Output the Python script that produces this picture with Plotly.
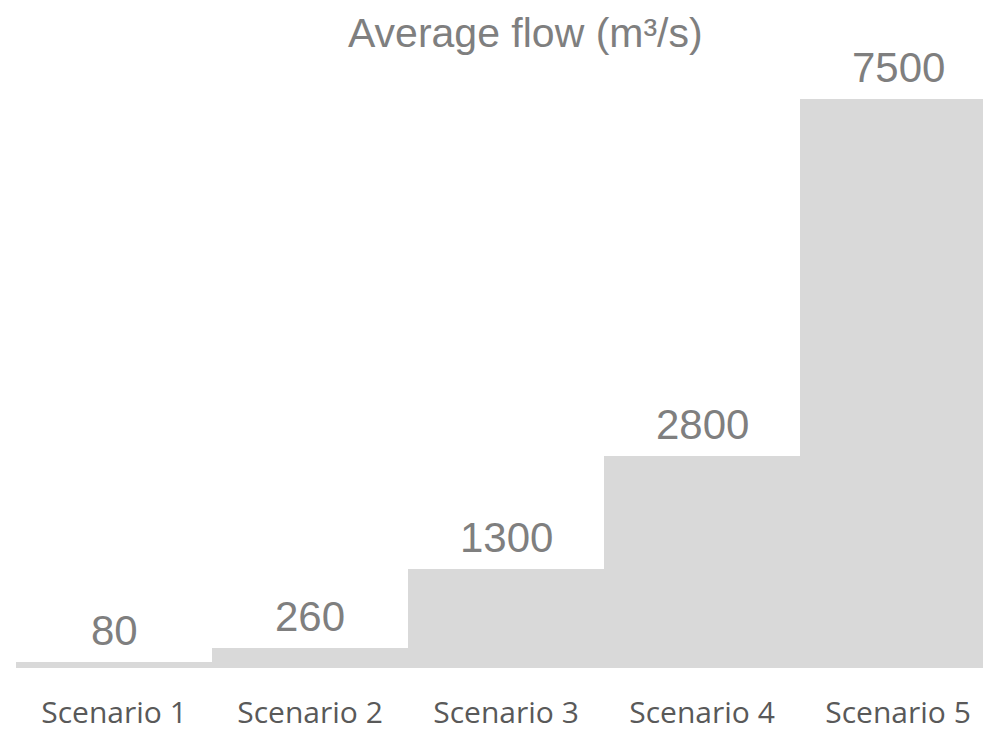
import plotly.graph_objects as go

# Scenario data: average flow in m³/s
scenarios = ["Scenario 1", "Scenario 2", "Scenario 3", "Scenario 4", "Scenario 5"]
avg_flow = [80, 260, 1300, 2800, 7500]

BAR_COLOR = "#d9d9d9"
LABEL_COLOR = "#7f7f7f"
TICK_COLOR = "#595959"
NUM_FONT = "Liberation Sans, Arial, sans-serif"

fig = go.Figure(
    go.Bar(
        x=scenarios,
        y=avg_flow,
        marker=dict(color=BAR_COLOR, line=dict(width=0)),
        width=1,
        hoverinfo="x+y",
    )
)

# Value labels sitting above each bar
for name, val in zip(scenarios, avg_flow):
    fig.add_annotation(
        x=name, y=val, text=str(val), showarrow=False,
        yanchor="bottom", yshift=6,
        font=dict(family=NUM_FONT, size=42, color=LABEL_COLOR),
    )

# Chart title
fig.add_annotation(
    text="Average flow (m³/s)", showarrow=False,
    xref="paper", x=(525 - 16) / 967, xanchor="center",
    yref="paper", y=1, yanchor="bottom", yshift=2,
    font=dict(family=NUM_FONT, size=41, color=LABEL_COLOR),
)

fig.update_layout(
    width=983, height=733,
    margin=dict(l=16, r=0, t=60, b=65),
    paper_bgcolor="white", plot_bgcolor="white",
    bargap=0,
    showlegend=False,
    xaxis=dict(
        range=[-0.5, 4.5 - 13 / 196],
        showgrid=False, zeroline=False, showline=False, ticks="",
        ticklabelstandoff=24,
        tickfont=dict(family="Open Sans, sans-serif", size=30, color=TICK_COLOR),
    ),
    yaxis=dict(
        range=[0, 8014], visible=False, showgrid=False, zeroline=False,
    ),
)

fig.write_html("out.html")
